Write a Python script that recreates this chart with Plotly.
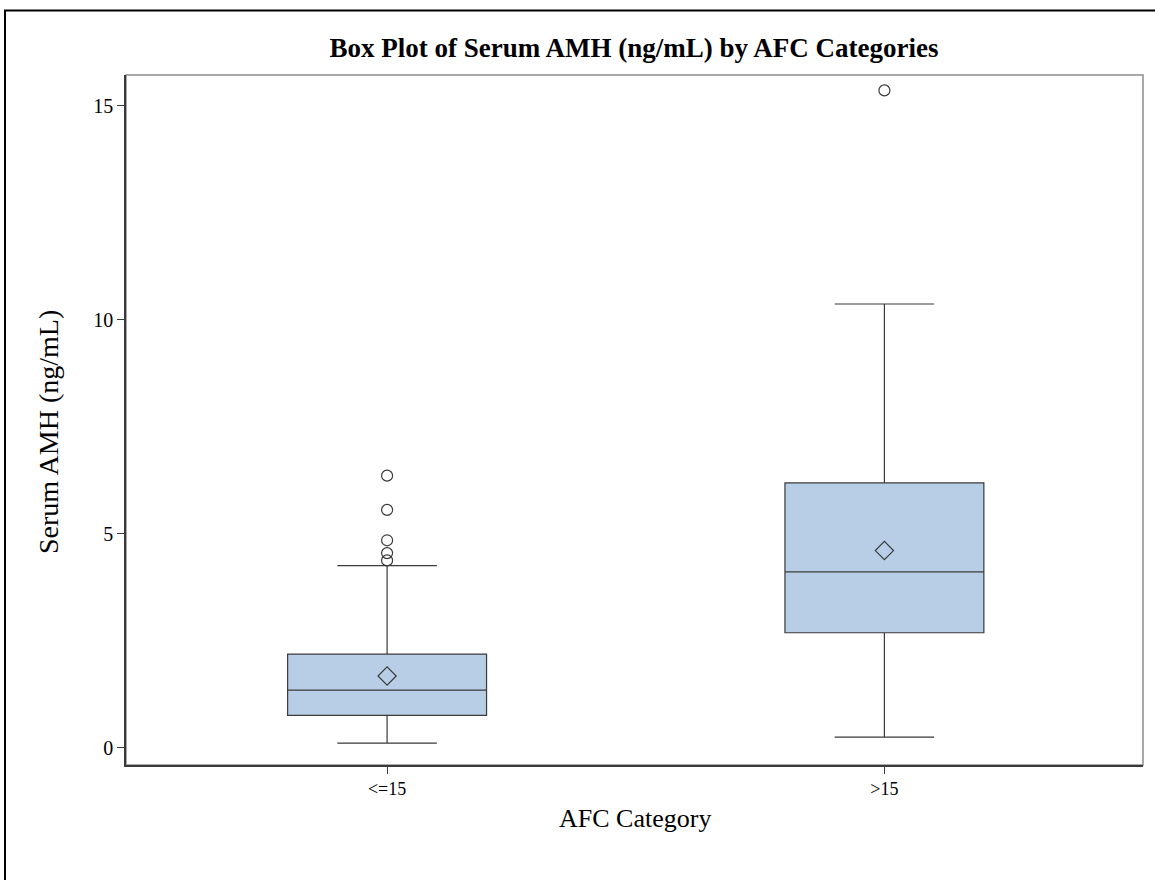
import plotly.graph_objects as go

categories = ["<=15", ">15"]
q1 = [0.76, 2.69]
median = [1.35, 4.11]
q3 = [2.19, 6.19]
lower_fence = [0.11, 0.25]
upper_fence = [4.26, 10.37]
means = [1.68, 4.61]
outliers_low_afc = [6.36, 5.56, 4.85, 4.55, 4.38]
outliers_high_afc = [15.36]

FONT = "Liberation Serif"
LINE = "#3a3a3a"
FILL = "#b8cee6"

W, H = 1155, 880
L, R, T, B = 126, 1143, 75, 765
PW, PH = R - L, B - T


def px_x(x):
    return (x - L) / PW


def px_y(y):
    return (B - y) / PH


fig = go.Figure()
fig.add_trace(go.Box(
    x=categories, q1=q1, median=median, q3=q3,
    lowerfence=lower_fence, upperfence=upper_fence,
    fillcolor=FILL, line=dict(color=LINE, width=1.2),
    whiskerwidth=0.5, boxpoints=False, width=0.4, showlegend=False,
    hoverinfo="skip",
))
fig.add_trace(go.Scatter(
    x=categories, y=means, mode="markers",
    marker=dict(symbol="diamond-open", size=14, color=LINE, line=dict(width=1.2)),
    showlegend=False,
))
out_x = [categories[0]] * len(outliers_low_afc) + [categories[1]] * len(outliers_high_afc)
out_y = outliers_low_afc + outliers_high_afc
fig.add_trace(go.Scatter(
    x=out_x, y=out_y, mode="markers",
    marker=dict(symbol="circle-open", size=11, color=LINE, line=dict(width=1.2)),
    showlegend=False,
))

fig.update_layout(
    width=W, height=H,
    margin=dict(l=L, r=W - R, t=T, b=H - B),
    paper_bgcolor="white", plot_bgcolor="white",
    font=dict(family=FONT, color="#000000"),
    title=dict(text="<b>Box Plot of Serum AMH (ng/mL) by AFC Categories</b>",
               x=px_x(634), xref="paper", xanchor="center",
               y=1 - 48 / H, yanchor="middle",
               font=dict(size=27, family=FONT)),
    xaxis=dict(type="category", range=[-0.525, 1.52], showgrid=False, zeroline=False,
               showline=True, linecolor=LINE, linewidth=1.5,
               ticks="outside", ticklen=7, tickcolor=LINE,
               tickfont=dict(size=18, family=FONT)),
    yaxis=dict(range=[-0.40, 15.72], tickvals=[0, 5, 10, 15], showgrid=False, zeroline=False,
               showline=True, linecolor=LINE, linewidth=1.5,
               ticks="outside", ticklen=7, tickcolor=LINE,
               tickfont=dict(size=20, family=FONT)),
    annotations=[
        dict(text="AFC Category", xref="paper", yref="paper", x=px_x(635), y=px_y(818),
             xanchor="center", yanchor="middle", showarrow=False,
             font=dict(size=26, family=FONT)),
        dict(text="Serum AMH (ng/mL)", xref="paper", yref="paper", x=px_x(48), y=px_y(432),
             xanchor="center", yanchor="middle", showarrow=False, textangle=-90,
             font=dict(size=28, family=FONT)),
    ],
    shapes=[
        dict(type="rect", xref="paper", yref="paper", x0=0, x1=1, y0=0, y1=1,
             line=dict(color="#8c8c8c", width=1.5), layer="below"),
        dict(type="rect", xref="paper", yref="paper",
             x0=px_x(5), x1=px_x(1170), y0=px_y(895), y1=px_y(10.5),
             line=dict(color="#000000", width=2)),
    ],
)

fig.write_html(
    "out.html",
    config={"displayModeBar": False},
    post_script="document.body.style.margin='0';document.body.style.overflow='hidden';",
)
